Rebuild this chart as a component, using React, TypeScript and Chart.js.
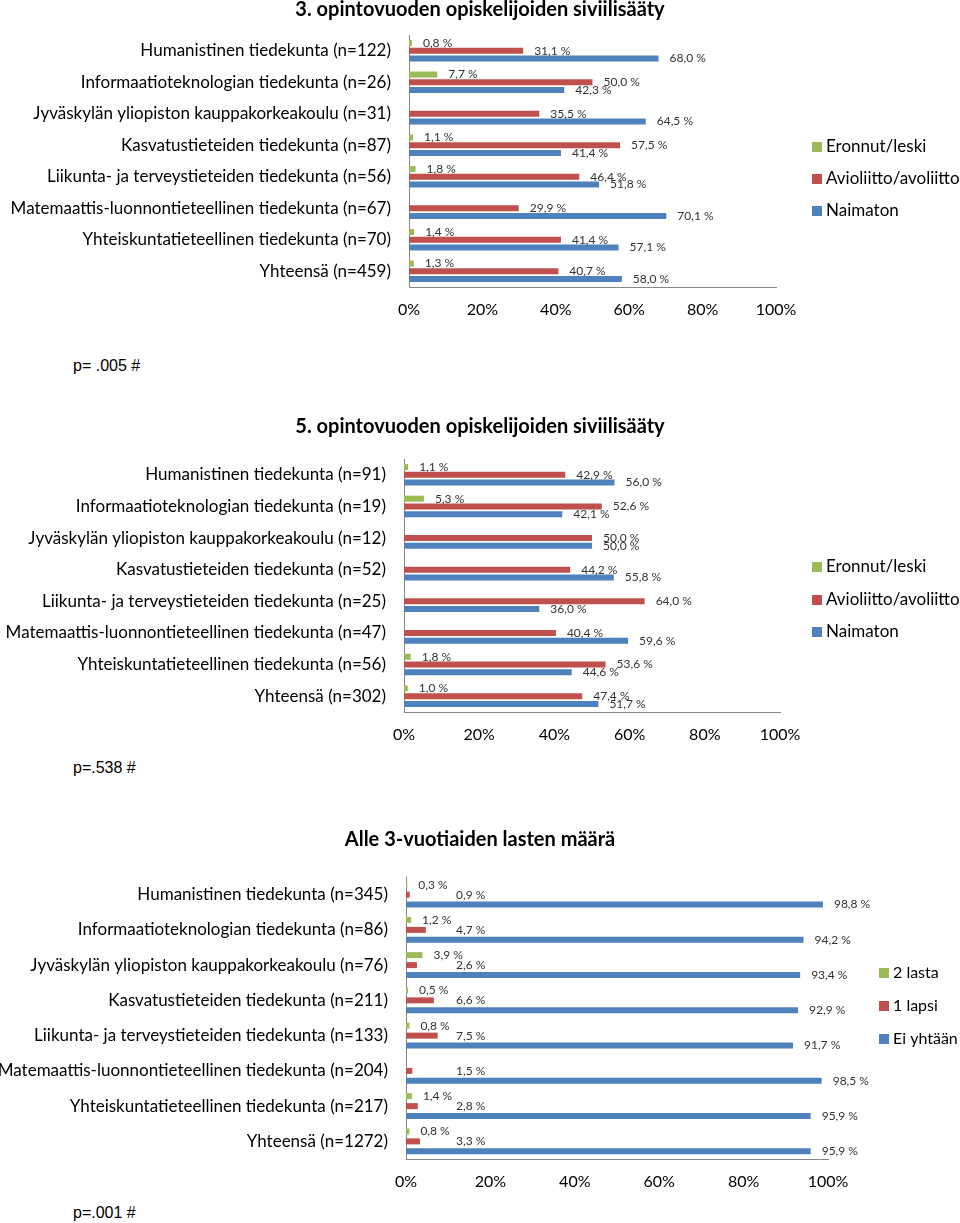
import React, { useEffect, useRef } from 'react';
import Chart from 'chart.js/auto';

// ---------- DATA ----------
const categories1 = [
  'Humanistinen tiedekunta (n=122)',
  'Informaatioteknologian tiedekunta (n=26)',
  'Jyväskylän yliopiston kauppakorkeakoulu (n=31)',
  'Kasvatustieteiden tiedekunta (n=87)',
  'Liikunta- ja terveystieteiden tiedekunta (n=56)',
  'Matemaattis-luonnontieteellinen tiedekunta (n=67)',
  'Yhteiskuntatieteellinen tiedekunta (n=70)',
  'Yhteensä (n=459)',
];
const eronnut1 = [0.8, 7.7, null, 1.1, 1.8, null, 1.4, 1.3];
const avioliitto1 = [31.1, 50.0, 35.5, 57.5, 46.4, 29.9, 41.4, 40.7];
const naimaton1 = [68.0, 42.3, 64.5, 41.4, 51.8, 70.1, 57.1, 58.0];

const categories2 = [
  'Humanistinen tiedekunta (n=91)',
  'Informaatioteknologian tiedekunta (n=19)',
  'Jyväskylän yliopiston kauppakorkeakoulu (n=12)',
  'Kasvatustieteiden tiedekunta (n=52)',
  'Liikunta- ja terveystieteiden tiedekunta (n=25)',
  'Matemaattis-luonnontieteellinen tiedekunta (n=47)',
  'Yhteiskuntatieteellinen tiedekunta (n=56)',
  'Yhteensä (n=302)',
];
const eronnut2 = [1.1, 5.3, null, null, null, null, 1.8, 1.0];
const avioliitto2 = [42.9, 52.6, 50.0, 44.2, 64.0, 40.4, 53.6, 47.4];
const naimaton2 = [56.0, 42.1, 50.0, 55.8, 36.0, 59.6, 44.6, 51.7];

const categories3 = [
  'Humanistinen tiedekunta (n=345)',
  'Informaatioteknologian tiedekunta (n=86)',
  'Jyväskylän yliopiston kauppakorkeakoulu (n=76)',
  'Kasvatustieteiden tiedekunta (n=211)',
  'Liikunta- ja terveystieteiden tiedekunta (n=133)',
  'Matemaattis-luonnontieteellinen tiedekunta (n=204)',
  'Yhteiskuntatieteellinen tiedekunta (n=217)',
  'Yhteensä (n=1272)',
];
const kaksiLasta3 = [0.3, 1.2, 3.9, 0.5, 0.8, null, 1.4, 0.8];
const yksiLapsi3 = [0.9, 4.7, 2.6, 6.6, 7.5, 1.5, 2.8, 3.3];
const eiYhtaan3 = [98.8, 94.2, 93.4, 92.9, 91.7, 98.5, 95.9, 95.9];

const seriesNames12 = ['Eronnut/leski', 'Avioliitto/avoliitto', 'Naimaton'];
const seriesNames3 = ['2 lasta', '1 lapsi', 'Ei yhtään'];
const xTicks = [0, 20, 40, 60, 80, 100];

const titles = [
  '3. opintovuoden opiskelijoiden siviilisääty',
  '5. opintovuoden opiskelijoiden siviilisääty',
  'Alle 3-vuotiaiden lasten määrä',
];
const pTexts = ['p= .005 #', 'p=.538 #', 'p=.001 #'];

// ---------- STYLE ----------
const COLORS = ['#9BBB59', '#C0504D', '#4F81BD'];
const FONT = 'Lato, "Open Sans", sans-serif';
const AXIS_COLOR = '#868686';

type ChartSpec = {
  top: number;
  height: number;
  title: string;
  titleGap: number;
  labels: string[];
  series: (number | null)[][];
  names: string[];
  areaLeft: number;
  areaRight: number;
  catPct: number;
  barPct: number;
  legendX: number;
  legendY: number[];
  legendSize: number;
  labelMinX?: (number | null)[];
};

const fmt = (v: number) => v.toFixed(1).replace('.', ',') + ' %';

const valueLabelPlugin = {
  id: 'valueLabels',
  afterDatasetsDraw(chart: any, _args: any, opts: any) {
    const ctx = chart.ctx;
    ctx.save();
    ctx.font = `12px ${FONT}`;
    ctx.fillStyle = '#333333';
    ctx.textAlign = 'left';
    ctx.textBaseline = 'middle';
    const minX: (number | null)[] = opts.minX || [];
    chart.data.datasets.forEach((ds: any, di: number) => {
      const meta = chart.getDatasetMeta(di);
      meta.data.forEach((el: any, i: number) => {
        const v = ds.data[i];
        if (v === null || v === undefined) return;
        let x = el.x + 11;
        const m = minX[di];
        if (m !== null && m !== undefined) x = Math.max(x, chart.chartArea.left + m);
        ctx.fillText(fmt(v), x, el.y);
      });
    });
    ctx.restore();
  },
};

const legendPlugin = {
  id: 'sideLegend',
  afterDraw(chart: any, _args: any, opts: any) {
    const ctx = chart.ctx;
    ctx.save();
    ctx.font = `${opts.size}px ${FONT}`;
    ctx.textAlign = 'left';
    ctx.textBaseline = 'middle';
    chart.data.datasets.forEach((ds: any, i: number) => {
      const y = opts.ys[i];
      ctx.fillStyle = ds.backgroundColor;
      ctx.fillRect(opts.x, y - 5, 10, 10);
      ctx.fillStyle = '#000';
      ctx.fillText(ds.label, opts.x + 14, y);
    });
    ctx.restore();
  },
};

function BarChart({ spec }: { spec: ChartSpec }) {
  const ref = useRef<HTMLCanvasElement | null>(null);
  useEffect(() => {
    if (!ref.current) return;
    const chart = new Chart(ref.current, {
      type: 'bar',
      data: {
        labels: spec.labels,
        datasets: spec.series.map((d, i) => ({
          label: spec.names[i],
          data: d as any,
          backgroundColor: COLORS[i],
          categoryPercentage: spec.catPct,
          barPercentage: spec.barPct,
        })),
      },
      options: {
        indexAxis: 'y',
        responsive: false,
        animation: false,
        layout: { padding: 0 },
        plugins: {
          legend: { display: false },
          tooltip: { enabled: false },
          title: {
            display: true,
            text: spec.title,
            color: '#000',
            font: { family: FONT, size: 20, weight: 'bold', lineHeight: 1 },
            padding: { top: 0, bottom: spec.titleGap },
          },
          valueLabels: { minX: spec.labelMinX || [] },
          sideLegend: { x: spec.legendX, ys: spec.legendY, size: spec.legendSize },
        } as any,
        scales: {
          x: {
            min: 0,
            max: 100,
            afterBuildTicks: (s: any) => {
              s.ticks = xTicks.map((v) => ({ value: v }));
            },
            ticks: {
              callback: (v: any) => v + '%',
              color: '#000',
              font: { family: FONT, size: 16 },
              padding: 13,
            },
            grid: { display: false, drawTicks: false },
            border: { display: true, color: AXIS_COLOR },
            afterFit: (s: any) => {
              s.height = 43;
            },
          },
          y: {
            ticks: {
              color: '#000',
              font: { family: FONT, size: 17 },
              padding: 18,
              autoSkip: false,
            },
            grid: { display: false, drawTicks: false },
            border: { display: true, color: AXIS_COLOR },
            afterFit: (s: any) => {
              s.width = spec.areaLeft;
            },
          },
          // empty right-hand box that reserves the legend column
          yRight: {
            type: 'category',
            position: 'right',
            labels: [''],
            ticks: { display: false },
            grid: { display: false, drawTicks: false },
            border: { display: false },
            afterFit: (s: any) => {
              s.width = 960 - spec.areaRight;
            },
          },
        } as any,
      },
      plugins: [valueLabelPlugin, legendPlugin],
    });
    return () => chart.destroy();
  }, [spec]);
  return (
    <canvas
      ref={ref}
      width={960}
      height={spec.height}
      style={{ position: 'absolute', left: 0, top: spec.top, width: 960, height: spec.height }}
    />
  );
}

const specs: ChartSpec[] = [
  {
    top: 0, height: 330, title: titles[0], titleGap: 15,
    labels: categories1, series: [eronnut1, avioliitto1, naimaton1], names: seriesNames12,
    areaLeft: 409, areaRight: 776, catPct: 0.735, barPct: 0.78,
    legendX: 812, legendY: [147, 179, 211], legendSize: 17,
  },
  {
    top: 417, height: 338, title: titles[1], titleGap: 22,
    labels: categories2, series: [eronnut2, avioliitto2, naimaton2], names: seriesNames12,
    areaLeft: 404, areaRight: 780, catPct: 0.735, barPct: 0.78,
    legendX: 812, legendY: [150, 183, 215], legendSize: 17,
  },
  {
    top: 830, height: 372, title: titles[2], titleGap: 27,
    labels: categories3, series: [kaksiLasta3, yksiLapsi3, eiYhtaan3], names: seriesNames3,
    areaLeft: 406, areaRight: 828, catPct: 0.85, barPct: 0.6,
    legendX: 879, legendY: [143, 176, 209], legendSize: 16,
    labelMinX: [null, 50, null],
  },
];

const pTops = [357, 759, 1204];

export default function App() {
  return (
    <div style={{ position: 'absolute', left: 0, top: 0, width: 960, height: 1223, background: '#fff' }}>
      {specs.map((s, i) => (
        <BarChart key={i} spec={s} />
      ))}
      {pTexts.map((t, i) => (
        <div
          key={'p' + i}
          style={{
            position: 'absolute', left: 73, top: pTops[i], fontFamily: '"Liberation Sans", Arial, sans-serif',
            fontSize: 16, lineHeight: '18px', color: '#000', whiteSpace: 'pre',
          }}
        >
          {t}
        </div>
      ))}
    </div>
  );
}
